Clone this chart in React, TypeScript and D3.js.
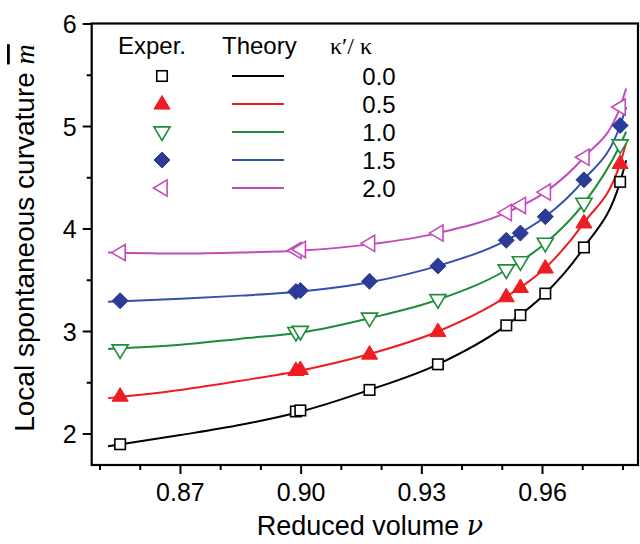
import React from "react";
import * as d3 from "d3";

const ratioLabels = ["0.0", "0.5", "1.0", "1.5", "2.0"];
const seriesColors = ["#000000", "#ee1d23", "#1e8c3a", "#2c3b95", "#c44bba"];
const lineColors = ["#000000", "#ee1d23", "#1e8c3a", "#3350b0", "#c44bba"];

const vExp = [0.855, 0.8987, 0.8998, 0.917, 0.934, 0.951, 0.9545, 0.9607, 0.9703, 0.9793];
const exp00 = [1.9, 2.22, 2.23, 2.43, 2.68, 3.06, 3.16, 3.37, 3.82, 4.46];
const exp05 = [2.37, 2.62, 2.63, 2.78, 3.0, 3.34, 3.43, 3.62, 4.06, 4.64];
const exp10 = [2.82, 2.99, 3.0, 3.13, 3.31, 3.6, 3.68, 3.86, 4.25, 4.82];
const exp15 = [3.3, 3.39, 3.4, 3.49, 3.64, 3.89, 3.96, 4.12, 4.48, 5.01];
const exp20 = [3.77, 3.79, 3.8, 3.86, 3.96, 4.16, 4.23, 4.36, 4.7, 5.19];

const vTheory = [0.852, 0.87, 0.885, 0.9, 0.917, 0.934, 0.951, 0.9607, 0.9703, 0.9793, 0.9808];
const th00 = [1.88, 1.99, 2.09, 2.22, 2.43, 2.68, 3.06, 3.37, 3.82, 4.46, 4.67];
const th05 = [2.35, 2.43, 2.52, 2.62, 2.78, 3.0, 3.34, 3.62, 4.06, 4.64, 4.84];
const th10 = [2.83, 2.87, 2.93, 2.99, 3.13, 3.31, 3.6, 3.86, 4.25, 4.82, 4.95];
const th15 = [3.29, 3.32, 3.35, 3.39, 3.48, 3.64, 3.89, 4.12, 4.48, 5.01, 5.19];
const th20 = [3.77, 3.76, 3.77, 3.79, 3.85, 3.96, 4.16, 4.36, 4.7, 5.19, 5.37];

const expSeries = [exp00, exp05, exp10, exp15, exp20];
const theorySeries = [th00, th05, th10, th15, th20];

const xMajor = [0.87, 0.9, 0.93, 0.96];
const xMinor = [0.85, 0.86, 0.88, 0.89, 0.91, 0.92, 0.94, 0.95, 0.97, 0.98];
const yMajor = [2, 3, 4, 5, 6];
const yMinor = [2.5, 3.5, 4.5, 5.5];

const W = 640, H = 544;
const L = 91.7, R = 638, T = 23.5, B = 465;
const FONT = "Arial, 'Liberation Sans', Helvetica, sans-serif";

function Marker({ kind, x, y, color }: { kind: number; x: number; y: number; color: string }) {
  if (kind === 0) {
    const s = 10.5;
    return <rect x={x - s / 2} y={y - s / 2} width={s} height={s} fill="#fff" stroke={color} strokeWidth={1.6} />;
  }
  if (kind === 1) {
    const r = 8.5;
    const p = [[x, y - r], [x + r * 0.95, y + r * 0.6], [x - r * 0.95, y + r * 0.6]];
    return <polygon points={p.map((d) => d.join(",")).join(" ")} fill={color} stroke={color} strokeWidth={1} />;
  }
  if (kind === 2) {
    const r = 8.5;
    const p = [[x, y + r], [x + r * 0.95, y - r * 0.6], [x - r * 0.95, y - r * 0.6]];
    return <polygon points={p.map((d) => d.join(",")).join(" ")} fill="#fff" stroke={color} strokeWidth={1.6} />;
  }
  if (kind === 3) {
    const r = 8;
    const p = [[x, y - r], [x + r, y], [x, y + r], [x - r, y]];
    return <polygon points={p.map((d) => d.join(",")).join(" ")} fill={color} stroke={color} strokeWidth={1} />;
  }
  const r = 8.5;
  const p = [[x - r, y], [x + r * 0.6, y - r * 0.95], [x + r * 0.6, y + r * 0.95]];
  return <polygon points={p.map((d) => d.join(",")).join(" ")} fill="#fff" stroke={color} strokeWidth={1.6} />;
}

export default function App() {
  const x = d3.scaleLinear().domain([0.85, 0.96]).range([100, 542.5]);
  const y = d3.scaleLinear().domain([2, 6]).range([434, 24]);
  const line = d3
    .line<[number, number]>()
    .x((d) => x(d[0]))
    .y((d) => y(d[1]))
    .curve(d3.curveMonotoneX);

  const legendRows = [76, 104, 132, 160, 188];

  return (
    <svg width={W} height={H} style={{ position: "absolute", left: 0, top: 0, background: "#fff" }} fontFamily={FONT}>
      <rect x={0} y={0} width={W} height={H} fill="#fff" />
      {/* theory curves */}
      {theorySeries.map((s, i) => (
        <path
          key={"t" + i}
          d={line(vTheory.map((v, j) => [v, s[j]] as [number, number])) || ""}
          fill="none"
          stroke={lineColors[i]}
          strokeWidth={2}
        />
      ))}
      {/* experimental points */}
      {expSeries.map((s, i) => (
        <g key={"e" + i}>
          {vExp.map((v, j) => (
            <Marker key={j} kind={i} x={x(v)} y={y(s[j])} color={seriesColors[i]} />
          ))}
        </g>
      ))}
      {/* frame */}
      <rect x={L} y={T} width={R - L} height={B - T} fill="none" stroke="#000" strokeWidth={2.2} />
      {/* x ticks */}
      {xMajor.map((v) => (
        <g key={"xm" + v}>
          <line x1={x(v)} x2={x(v)} y1={B} y2={B + 9} stroke="#000" strokeWidth={2} />
          <text x={x(v)} y={B + 36} textAnchor="middle" fontSize={25}>
            {v.toFixed(2)}
          </text>
        </g>
      ))}
      {xMinor.map((v) => (
        <line key={"xn" + v} x1={x(v)} x2={x(v)} y1={B} y2={B + 5} stroke="#000" strokeWidth={2} />
      ))}
      {/* y ticks */}
      {yMajor.map((v) => (
        <g key={"ym" + v}>
          <line x1={L - 9} x2={L} y1={y(v)} y2={y(v)} stroke="#000" strokeWidth={2} />
          <text x={L - 15} y={y(v) + 9} textAnchor="end" fontSize={25}>
            {v}
          </text>
        </g>
      ))}
      {yMinor.map((v) => (
        <line key={"yn" + v} x1={L - 5} x2={L} y1={y(v)} y2={y(v)} stroke="#000" strokeWidth={2} />
      ))}
      {/* axis titles */}
      <text x={370} y={535} textAnchor="middle" fontSize={27}>
        Reduced volume <tspan fontFamily="'DejaVu Serif', 'Liberation Serif', serif" fontStyle="italic">ν</tspan>
      </text>
      <text transform={`translate(34, 238) rotate(-90)`} textAnchor="middle" fontSize={28}>
        Local spontaneous curvature{" "}
        <tspan fontFamily="'Liberation Serif', serif" fontStyle="italic" textDecoration="overline">m</tspan>
      </text>
      {/* legend */}
      <text x={118} y={54} fontSize={24}>Exper.</text>
      <text x={222} y={54} fontSize={24}>Theory</text>
      <text x={330} y={54} fontSize={24} fontFamily="'Liberation Serif', serif">
        κ′/ κ
      </text>
      {ratioLabels.map((lab, i) => (
        <g key={"lg" + i}>
          <Marker kind={i} x={162} y={legendRows[i]} color={seriesColors[i]} />
          <line x1={232} x2={284} y1={legendRows[i]} y2={legendRows[i]} stroke={lineColors[i]} strokeWidth={2} />
          <text x={379} y={legendRows[i] + 9} textAnchor="middle" fontSize={24}>
            {lab}
          </text>
        </g>
      ))}
    </svg>
  );
}
